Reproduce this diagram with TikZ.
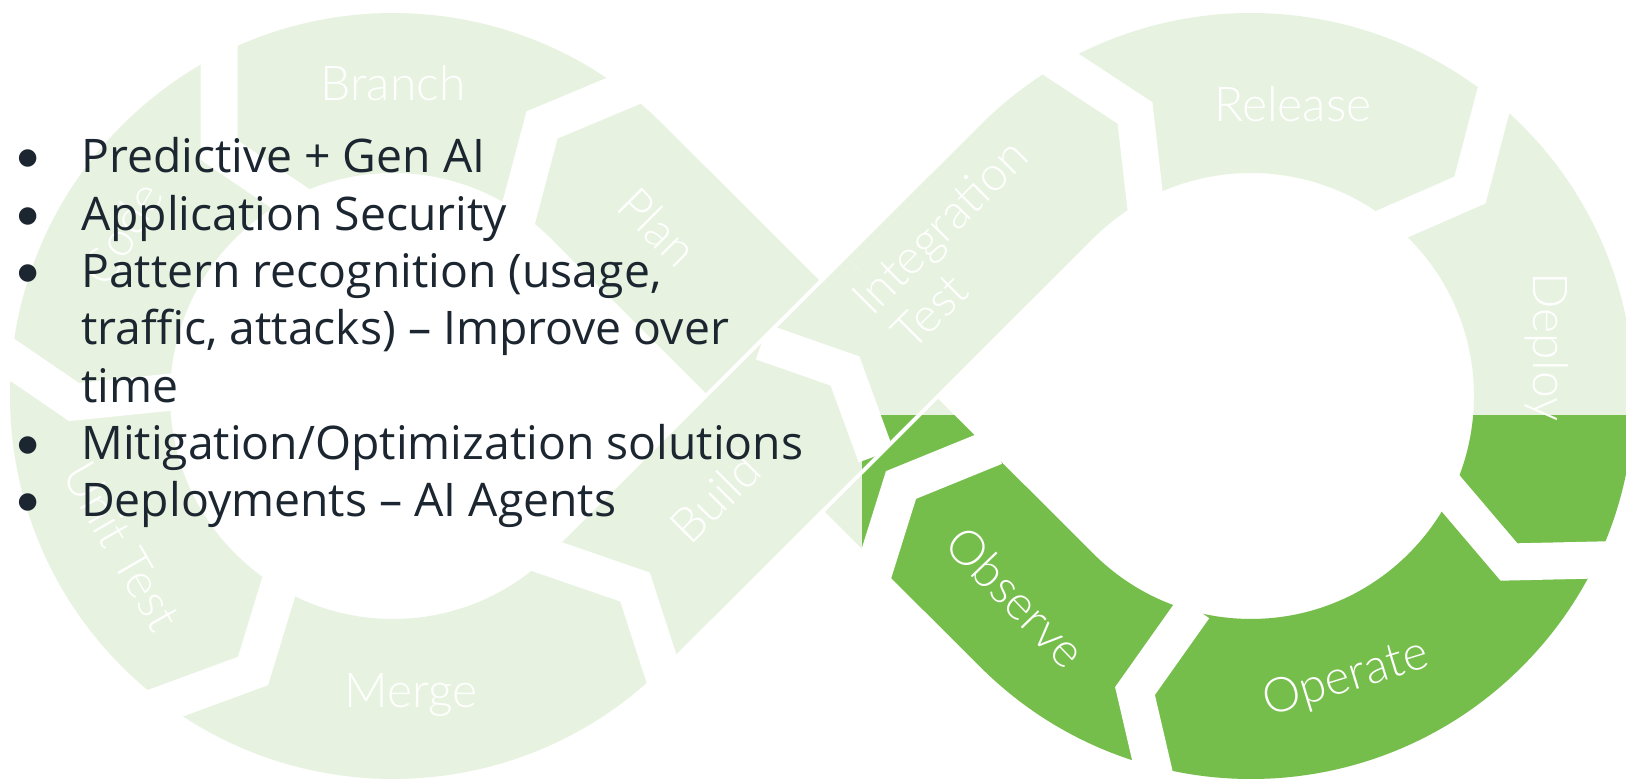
\documentclass[tikz,border=0pt]{standalone}
\usepackage{fontspec}
\usetikzlibrary{calc}
\newfontfamily\bulfont{Open Sans}
\newfontfamily\dotfont{Lato}
\newfontfamily\lblfont{Lato Light}
\definecolor{lightg}{HTML}{E7F3E0}
\definecolor{darkg}{HTML}{76BE4B}
\definecolor{txt}{HTML}{1C2630}
\tikzset{
  sepline/.style={white, line width=37pt, line join=miter, shorten <=-14pt, shorten >=-14pt},
  sepclip/.style={white, line width=37pt, line join=miter},
  lbl/.style={text=white, font=\lblfont\fontsize{48}{58}\selectfont, inner sep=0pt},
  bul/.style={text=txt, font=\bulfont\fontsize{46.3}{57}\selectfont, inner sep=0pt},
  dot/.style={text=txt, font=\dotfont\fontsize{47}{57}\selectfont, inner sep=0pt},
}
\newcommand\drawloopband[1]{%
  \draw[line width=160pt, #1] (TL2) -- (TR2) arc[start angle=225.07, end angle=494.93, radius=303]
     -- (TL1) arc[start angle=-45.07, end angle=-314.93, radius=303] -- cycle;
  \draw[line width=168pt, white] (Ta) -- (Tb);
  \draw[line width=160pt, #1] (Ta) -- (Tb);
  % separators
  \draw[sepline] (628,695) -- (542,659) -- (520,576);   % Plan | Branch
  \draw[sepline] (219,734) -- (219,634) -- (288,587);   % Branch | Code
  \draw[sepline] (11,425) -- (74,382) -- (172,392);     % Code | Unit Test
  \draw[sepline] (166,81) -- (253,113) -- (279,198);    % Unit Test | Merge
  \draw[sepline] (548,227) -- (635,197) -- (661,117);   % Merge | Build
  \begin{scope}
    \clip (C1) -- (C2) -- (C3) -- (C4) -- cycle;
    \draw[sepclip] (762,442) -- (845,413) -- (876,328); % Build | Integration
  \end{scope}
  \draw[sepline] (1062,719) -- (1135,671) -- (1145,584);% Integration | Release
  \draw[sepline] (1492,678) -- (1470,594) -- (1390,559);% Release | Deploy
  \draw[sepline] (1452,289) -- (1509,222) -- (1598,224);% Deploy | Operate
  \draw[sepline] (1186,165) -- (1135,93) -- (1155,7);   % Operate | Observe
  \draw[sepline] (982,332) -- (901,299) -- (875,216);   % Observe | Plan
}
\begin{document}
\begin{tikzpicture}[x=1pt, y=1pt]
\useasboundingbox (0,0) rectangle (1626,784);
\clip (0,0) rectangle (1626,784);
\fill[white] (0,0) rectangle (1626,784);
\coordinate (CL) at (393,388);
\coordinate (CR) at (1251,388);
\coordinate (X) at (822,388);
\coordinate (TL2) at ($(CL)+(45.07:303)$);
\coordinate (TR2) at ($(CR)+(225.07:303)$);
\coordinate (TL1) at ($(CL)+(-45.07:303)$);
\coordinate (Ta) at ($(X)+(44.93:115)$);
\coordinate (Tb) at ($(X)+(224.93:115)$);
\coordinate (C1) at ($(Ta)+(134.93:82)$);
\coordinate (C2) at ($(Ta)+(-45.07:82)$);
\coordinate (C3) at ($(Tb)+(-45.07:82)$);
\coordinate (C4) at ($(Tb)+(134.93:82)$);

\drawloopband{lightg}
\begin{scope}
  \clip (862,-10) rectangle (1700,368);
  \drawloopband{darkg}
\end{scope}

% stage labels
\node[lbl, anchor=base] (branch) at (393,683) {Branch};
\node[lbl, rotate=59] (code) at (122,551) {Code};
\node[lbl, rotate=-60] (unittest) at (122,238) {Unit Test};
\node[lbl, anchor=base] (merge) at (411,76) {Merge};
\node[lbl, rotate=45] (build) at (715,286) {Build};
\node[lbl, rotate=-45] (plan) at (658,557) {Plan};
\node[lbl, rotate=45, anchor=base west] (integ) at (872,466) {Integration};
\node[lbl, rotate=45, anchor=base west] (itest) at (912,431) {Test};
\node[lbl, anchor=base] (release) at (1293,662) {Release};
\node[lbl, rotate=-90, anchor=base] (deploy) at (1533,437) {Deploy};
\node[lbl, rotate=17] (operate) at (1346,105) {Operate};
\node[lbl, rotate=-46] (observe) at (1016,187) {Observe};

% bullet list
\node[dot, anchor=base] (d1) at (28,611) {\textbullet};
\node[bul, anchor=base west] (l1) at (81,611) {Predictive + Gen AI};
\node[dot, anchor=base] (d2) at (28,553.7) {\textbullet};
\node[bul, anchor=base west] (l2) at (81,553.7) {Application Security};
\node[dot, anchor=base] (d3) at (28,496.4) {\textbullet};
\node[bul, anchor=base west] (l3) at (81,496.4) {Pattern recognition (usage,};
\node[bul, anchor=base west] (l3b) at (81,439.1) {traffic, attacks) – Improve over};
\node[bul, anchor=base west] (l3c) at (81,381.8) {time};
\node[dot, anchor=base] (d4) at (28,324.5) {\textbullet};
\node[bul, anchor=base west] (l4) at (81,324.5) {Mitigation/Optimization solutions};
\node[dot, anchor=base] (d5) at (28,267.2) {\textbullet};
\node[bul, anchor=base west] (l5) at (81,267.2) {Deployments – AI Agents};
\end{tikzpicture}
\end{document}
